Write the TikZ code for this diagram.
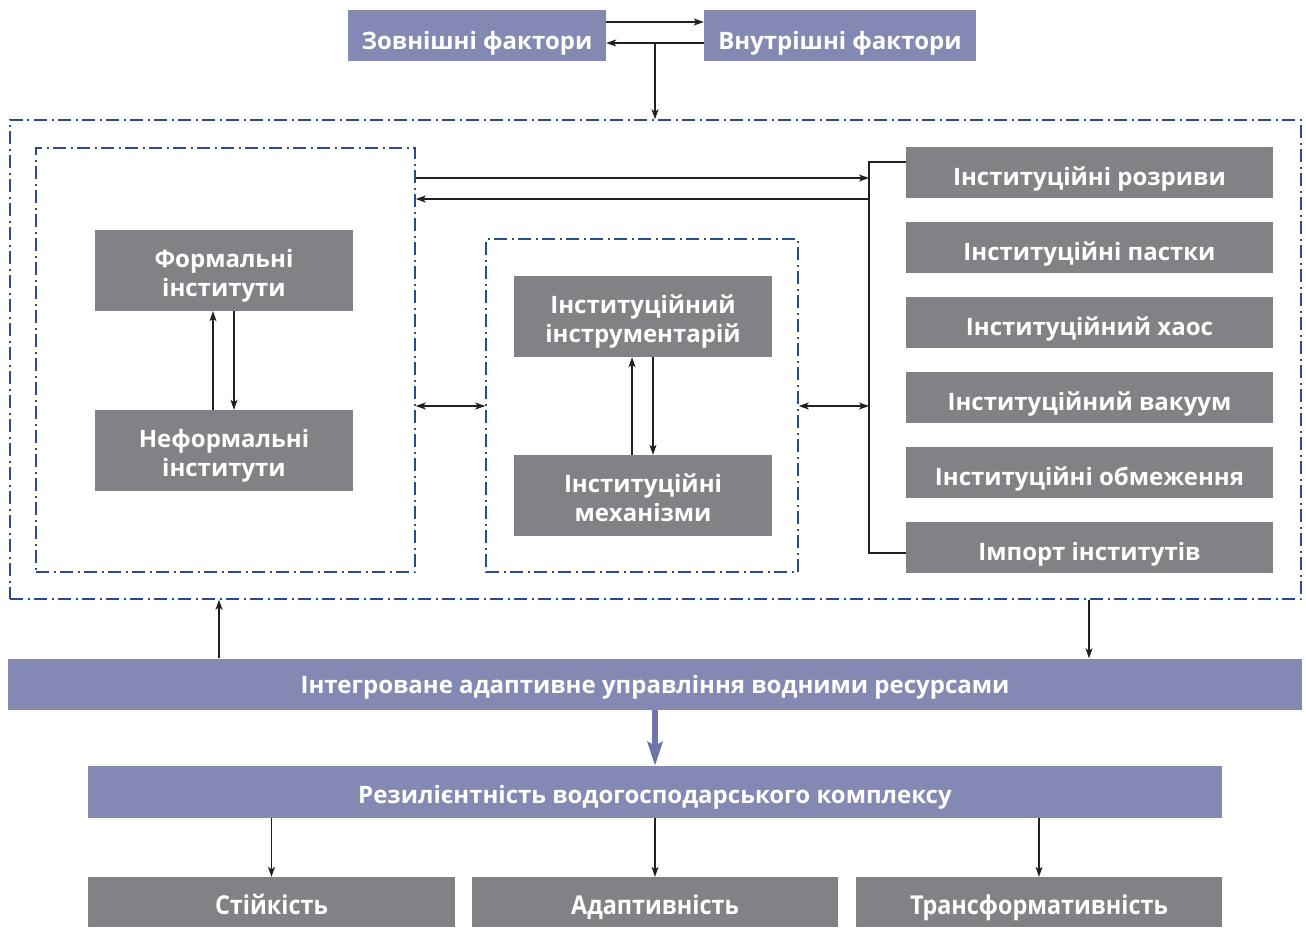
\documentclass[tikz,border=0pt]{standalone}
\usepackage{fontspec}
\setmainfont{Open Sans}
\newfontfamily\condfont[FakeStretch=0.9]{Open Sans}
\usetikzlibrary{arrows.meta,calc}
\definecolor{pbl}{RGB}{132,137,180}
\definecolor{gry}{RGB}{128,130,133}
\definecolor{dbl}{RGB}{43,76,140}
\definecolor{ink}{RGB}{35,31,32}
\definecolor{tpur}{RGB}{112,116,170}
\begin{document}
\begin{tikzpicture}[x=1pt,y=-1pt,
  txt/.style={text=white,font=\fontsize{24}{26}\selectfont\bfseries,align=center,inner sep=0pt,text height=27pt,text depth=0pt},
  two/.style={font=\fontsize{24}{29}\selectfont\bfseries,text height=51pt,text depth=0pt},
  pbox/.style={txt,fill=pbl},
  gbox/.style={txt,fill=gry},
  cbox/.style={gbox,font=\condfont\fontsize{26}{28}\selectfont\bfseries,text height=25pt},
  dbox/.style={draw=dbl,line width=1.5pt,dash pattern=on 13pt off 4.5pt on 2pt off 4.5pt,inner sep=0pt},
  conn/.style={draw=ink,line width=1.3pt},
  arr/.style={conn,-{Stealth[length=10pt,width=7pt,inset=2.5pt]}},
  darr/.style={conn,{Stealth[length=10pt,width=7pt,inset=2.5pt]}-{Stealth[length=10pt,width=7pt,inset=2.5pt]}},
  bigarr/.style={draw=tpur,line width=5.5pt,-{Stealth[length=24pt,width=15pt,inset=4pt]}}
]
\useasboundingbox (0,0) rectangle (1306,927);

% top factors
\node[pbox,minimum width=258pt,minimum height=51pt] (zov) at (477,35.5) {Зовнішні фактори};
\node[pbox,minimum width=272pt,minimum height=51pt] (vnu) at (840,35.5) {Внутрішні фактори};

% dashed frames
\node[dbox,minimum width=1291pt,minimum height=479pt] (outer) at (655.5,359.5) {};
\node[dbox,minimum width=379pt,minimum height=424pt] (lb) at (225.5,360) {};
\node[dbox,minimum width=312pt,minimum height=333pt] (mb) at (642,405.5) {};

% inner boxes
\node[gbox,two,minimum width=258pt,minimum height=81pt] (form) at (224,270.5) {Формальні\\інститути};
\node[gbox,two,minimum width=258pt,minimum height=81pt] (neform) at (224,450.5) {Неформальні\\інститути};
\node[gbox,two,minimum width=258pt,minimum height=81pt] (instr) at (643,316.5) {Інституційний\\інструментарій};
\node[gbox,two,minimum width=258pt,minimum height=81pt] (mech) at (643,495.5) {Інституційні\\механізми};

% right list
\node[gbox,minimum width=367pt,minimum height=51pt] (r1) at (1089.5,172) {Інституційні розриви};
\node[gbox,minimum width=367pt,minimum height=51pt] (r2) at (1089.5,247) {Інституційні пастки};
\node[gbox,minimum width=367pt,minimum height=51pt] (r3) at (1089.5,322) {Інституційний хаос};
\node[gbox,minimum width=367pt,minimum height=51pt] (r4) at (1089.5,397) {Інституційний вакуум};
\node[gbox,minimum width=367pt,minimum height=51pt] (r5) at (1089.5,472) {Інституційні обмеження};
\node[gbox,minimum width=367pt,minimum height=51pt] (r6) at (1089.5,547) {Імпорт інститутів};

% bottom bars
\node[pbox,text height=19pt,minimum width=1294pt,minimum height=51pt] (integ) at (655,684) {Інтегроване адаптивне управління водними ресурсами};
\node[pbox,text height=22pt,minimum width=1134pt,minimum height=52pt] (res) at (655,792) {Резилієнтність водогосподарського комплексу};
\node[cbox,minimum width=367pt,minimum height=50pt] (b1) at (271.5,902) {Стійкість};
\node[cbox,minimum width=366pt,minimum height=50pt] (b2) at (655,902) {Адаптивність};
\node[cbox,minimum width=366pt,minimum height=50pt] (b3) at (1039,902) {Трансформативність};

% helper coordinates
\coordinate (t22) at (0,22);
\coordinate (t43) at (0,43);
\coordinate (tj) at (655,43);
\coordinate (bt) at (869,162);
\coordinate (bb) at (869,553);
\coordinate (bm) at (869,406);
\coordinate (b178) at (869,178);
\coordinate (b199) at (869,199);
\coordinate (a219) at (219,0);
\coordinate (a1089) at (1089,0);

% top connectors
\draw[arr] (zov.east |- t22) -- (vnu.west |- t22);
\draw[arr] (vnu.west |- t43) -- (zov.east |- t43);
\draw[arr] (tj) -- (tj |- outer.north);

% inner pairs
\draw[arr] ([xshift=-11pt]neform.north) -- ([xshift=-11pt]form.south);
\draw[arr] ([xshift=10pt]form.south) -- ([xshift=10pt]neform.north);
\draw[arr] ([xshift=-11pt]mech.north) -- ([xshift=-11pt]instr.south);
\draw[arr] ([xshift=10pt]instr.south) -- ([xshift=10pt]mech.north);

% bracket
\draw[conn] (r1.west |- bt) -- (bt) -- (bb) -- (r6.west |- bb);
\draw[arr] (lb.east |- b178) -- (b178);
\draw[arr] (b199) -- (lb.east |- b199);
\draw[darr] (lb.east |- bm) -- (mb.west |- bm);
\draw[darr] (mb.east |- bm) -- (bm);

% bottom connectors
\draw[arr] (integ.north -| a219) -- (outer.south -| a219);
\draw[arr] (outer.south -| a1089) -- (integ.north -| a1089);
\draw[bigarr] (integ.south) -- (res.north);
\draw[arr] (res.south -| b1) -- (b1.north);
\draw[arr] (res.south -| b2) -- (b2.north);
\draw[arr] (res.south -| b3) -- (b3.north);
\end{tikzpicture}
\end{document}
